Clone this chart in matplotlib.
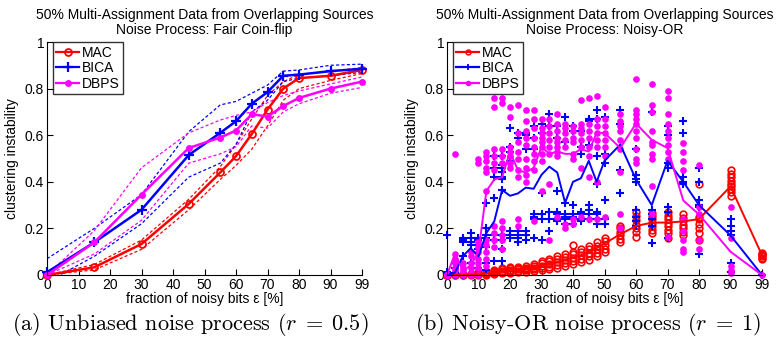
import numpy as np
import matplotlib
matplotlib.use('Agg')
import matplotlib.pyplot as plt
from matplotlib.lines import Line2D

plt.rcParams['font.family'] = ['Liberation Sans', 'DejaVu Sans']
plt.rcParams['mathtext.fontset'] = 'cm'


# ~~~~~~ Left panel: fair coin-flip ~~~~~~~~~~~~~~~~~~~~~~~~~~~~~~~~~~~~~~~~~~~~

x_left = [0, 15, 30, 45, 55, 60, 65, 70, 75, 80, 90, 99]

mac_mean = [0.0, 0.033, 0.133, 0.305, 0.44, 0.51, 0.605, 0.71, 0.80, 0.845, 0.855, 0.88]
mac_hi = [0.0, 0.045, 0.15, 0.325, 0.465, 0.56, 0.67, 0.77, 0.83, 0.86, 0.875, 0.89]
mac_lo = [0.0, 0.022, 0.11, 0.28, 0.41, 0.47, 0.54, 0.64, 0.75, 0.80, 0.835, 0.865]

bica_mean = [0.012, 0.14, 0.28, 0.515, 0.61, 0.66, 0.735, 0.785, 0.855, 0.86, 0.875, 0.885]
bica_hi = [0.07, 0.20, 0.345, 0.615, 0.73, 0.745, 0.78, 0.815, 0.875, 0.88, 0.90, 0.905]
bica_lo = [-0.03, 0.08, 0.22, 0.42, 0.48, 0.56, 0.70, 0.75, 0.83, 0.845, 0.855, 0.87]

dbps_mean = [0.0, 0.14, 0.345, 0.545, 0.59, 0.62, 0.69, 0.68, 0.725, 0.76, 0.80, 0.83]
dbps_hi = [0.0, 0.19, 0.46, 0.61, 0.665, 0.685, 0.70, 0.74, 0.77, 0.79, 0.82, 0.85]
dbps_lo = [0.0, 0.09, 0.235, 0.48, 0.52, 0.55, 0.64, 0.63, 0.70, 0.735, 0.78, 0.805]


# ~~~~~~ Right panel: noisy-OR ~~~~~~~~~~~~~~~~~~~~~~~~~~~~~~~~~~~~~~~~~~~~~~~~~~

x_right = [0, 2.5, 5, 7.5, 10, 12.5, 15, 17.5, 20, 22.5, 25, 27.5, 30, 32.5, 35,
           37.5, 40, 42.5, 45, 47.5, 50, 55, 60, 65, 70, 75, 80, 90, 99]

mac_line = [0, 0, 0, 0.002, 0.003, 0.005, 0.01, 0.015, 0.02, 0.022, 0.025, 0.03,
            0.04, 0.05, 0.055, 0.065, 0.075, 0.085, 0.10, 0.115, 0.135, 0.175,
            0.21, 0.225, 0.225, 0.23, 0.24, 0.38, 0.085]
bica_line = [0.0, 0.01, 0.08, 0.115, 0.08, 0.18, 0.23, 0.365, 0.34, 0.35, 0.375,
             0.37, 0.43, 0.465, 0.44, 0.31, 0.40, 0.415, 0.49, 0.40, 0.49, 0.56,
             0.41, 0.30, 0.49, 0.40, 0.30, 0.17, 0.0]
dbps_line = [0.0, 0.09, 0.02, 0.04, 0.10, 0.36, 0.41, 0.42, 0.53, 0.45, 0.44, 0.46,
             0.55, 0.52, 0.53, 0.52, 0.52, 0.54, 0.53, 0.61, 0.61, 0.545, 0.65,
             0.58, 0.545, 0.32, 0.26, 0.10, 0.0]

mac_runs = [
    [0, 0, 0, 0, 0],
    [0, 0, 0.003, 0.005],
    [0, 0.002, 0.004],
    [0, 0.003, 0.006],
    [0, 0.004, 0.008, 0.012],
    [0.002, 0.006, 0.01, 0.014],
    [0.004, 0.008, 0.013, 0.018, 0.022],
    [0.008, 0.012, 0.018, 0.024, 0.03],
    [0.01, 0.016, 0.022, 0.028, 0.034],
    [0.012, 0.018, 0.024, 0.03, 0.036],
    [0.014, 0.02, 0.026, 0.032, 0.038],
    [0.018, 0.025, 0.032, 0.04, 0.048],
    [0.022, 0.03, 0.04, 0.05, 0.06],
    [0.026, 0.036, 0.048, 0.058, 0.07],
    [0.03, 0.042, 0.055, 0.068, 0.08],
    [0.038, 0.05, 0.064, 0.078, 0.09],
    [0.048, 0.06, 0.074, 0.088, 0.10, 0.128],
    [0.056, 0.07, 0.084, 0.098, 0.11],
    [0.066, 0.08, 0.095, 0.11, 0.125],
    [0.08, 0.095, 0.11, 0.125, 0.14],
    [0.098, 0.112, 0.128, 0.145, 0.16],
    [0.14, 0.155, 0.17, 0.185, 0.2, 0.21],
    [0.165, 0.185, 0.2, 0.215, 0.235, 0.255, 0.27],
    [0.18, 0.195, 0.21, 0.225, 0.24, 0.255, 0.265],
    [0.16, 0.18, 0.195, 0.21, 0.225, 0.24, 0.255, 0.27],
    [0.17, 0.185, 0.2, 0.215, 0.23, 0.245, 0.26],
    [0.15, 0.18, 0.2, 0.22, 0.24, 0.25, 0.39],
    [0.34, 0.355, 0.37, 0.38, 0.39, 0.405, 0.42, 0.435, 0.45],
    [0.07, 0.075, 0.08, 0.085, 0.09, 0.095],
]

bica_runs = [
    [0.0, 0.005, 0.015, 0.17],
    [0.0, 0.01, 0.03, 0.05],
    [0.0, 0.08, 0.14, 0.15, 0.16],
    [0.05, 0.13, 0.14, 0.16, 0.18],
    [0.03, 0.11, 0.13, 0.15, 0.16],
    [0.02, 0.05, 0.12, 0.16, 0.17, 0.2, 0.31],
    [0.06, 0.15, 0.17, 0.33, 0.42, 0.46, 0.51],
    [0.06, 0.11, 0.15, 0.17, 0.365, 0.41, 0.42, 0.44, 0.46, 0.47, 0.51],
    [0.16, 0.17, 0.19, 0.49, 0.53, 0.55, 0.63],
    [0.14, 0.16, 0.17, 0.19, 0.59, 0.61],
    [0.15, 0.17, 0.19, 0.54, 0.6, 0.61],
    [0.16, 0.24, 0.25, 0.26, 0.54, 0.59, 0.64],
    [0.15, 0.24, 0.26, 0.35, 0.61, 0.65],
    [0.19, 0.24, 0.27, 0.64, 0.69],
    [0.23, 0.24, 0.26, 0.27, 0.36, 0.59, 0.64],
    [0.22, 0.24, 0.25, 0.26, 0.31, 0.57, 0.68],
    [0.22, 0.24, 0.25, 0.26, 0.30, 0.62, 0.64],
    [0.23, 0.24, 0.26, 0.27, 0.52, 0.55, 0.62],
    [0.24, 0.26, 0.28, 0.30, 0.56, 0.66, 0.67],
    [0.22, 0.24, 0.26, 0.27, 0.39, 0.51, 0.67, 0.71],
    [0.22, 0.24, 0.32, 0.48, 0.52, 0.68],
    [0.35, 0.45, 0.65, 0.71],
    [0.21, 0.23, 0.25, 0.28, 0.40, 0.41, 0.43, 0.54],
    [0.136, 0.21, 0.24, 0.26, 0.28, 0.70],
    [0.16, 0.27, 0.29, 0.46, 0.48, 0.60, 0.64],
    [0.39, 0.40, 0.42, 0.61, 0.66],
    [0.09, 0.29, 0.30, 0.32, 0.40, 0.46],
    [0.014, 0.05, 0.17, 0.19, 0.21, 0.24],
    [0.0, 0.0],
]

dbps_runs = [
    [0, 0, 0, 0],
    [0.0, 0.02, 0.03, 0.05, 0.07, 0.09, 0.52],
    [0.0, 0.01, 0.02, 0.03, 0.05],
    [0.0, 0.01, 0.03, 0.05, 0.08, 0.10],
    [0.0, 0.03, 0.05, 0.07, 0.10, 0.12, 0.14, 0.48, 0.50],
    [0.04, 0.07, 0.10, 0.13, 0.15, 0.36, 0.44, 0.46, 0.49, 0.51, 0.53],
    [0.12, 0.15, 0.18, 0.21, 0.45, 0.48, 0.51, 0.54, 0.72, 0.76],
    [0.11, 0.15, 0.17, 0.2, 0.23, 0.48, 0.51, 0.54, 0.74, 0.76],
    [0.46, 0.48, 0.51, 0.53, 0.55, 0.68, 0.72],
    [0.21, 0.24, 0.42, 0.45, 0.50, 0.53, 0.57, 0.61, 0.73],
    [0.40, 0.43, 0.46, 0.50, 0.56, 0.59, 0.62, 0.66, 0.71],
    [0.23, 0.45, 0.49, 0.52, 0.55, 0.59, 0.63, 0.67, 0.71],
    [0.36, 0.49, 0.52, 0.55, 0.57, 0.59, 0.61, 0.63, 0.67],
    [0.15, 0.39, 0.52, 0.55, 0.58, 0.61, 0.64, 0.67],
    [0.25, 0.51, 0.53, 0.55, 0.57, 0.59, 0.62, 0.65, 0.69],
    [0.20, 0.22, 0.55, 0.58, 0.61, 0.63, 0.65],
    [0.22, 0.24, 0.50, 0.52, 0.57, 0.59, 0.62, 0.64],
    [0.25, 0.46, 0.55, 0.58, 0.61, 0.63, 0.65, 0.75],
    [0.24, 0.42, 0.51, 0.55, 0.59, 0.62, 0.65, 0.76],
    [0.24, 0.40, 0.55, 0.58, 0.61, 0.64, 0.67, 0.77],
    [0.25, 0.51, 0.55, 0.58, 0.61, 0.64, 0.67, 0.72],
    [0.20, 0.26, 0.44, 0.54, 0.58, 0.62, 0.64, 0.66, 0.69],
    [0.48, 0.50, 0.54, 0.59, 0.62, 0.65, 0.67, 0.69, 0.71, 0.84],
    [0.26, 0.38, 0.50, 0.52, 0.56, 0.57, 0.62, 0.70, 0.73, 0.82],
    [0.165, 0.50, 0.53, 0.56, 0.59, 0.62, 0.65, 0.69, 0.76, 0.79],
    [0.10, 0.11, 0.15, 0.19, 0.24, 0.45, 0.49, 0.53, 0.565],
    [0.11, 0.15, 0.26, 0.29, 0.47],
    [0.01, 0.02, 0.04, 0.16, 0.29],
    [0.0],
]

tick_vals = [0, 10, 20, 30, 40, 50, 60, 70, 80, 90, 99]

titles = ['50% Multi-Assignment Data from Overlapping Sources\nNoise Process: Fair Coin-flip',
          '50% Multi-Assignment Data from Overlapping Sources\nNoise Process: Noisy-OR']
captions = [r'(a) Unbiased noise process ($r\;=\;0.5$)',
            r'(b) Noisy-OR noise process ($r\;=\;1$)']


def pos(vals):
    # 99% sits where 100 would be on the axis
    return [100 if v == 99 else v for v in vals]


RED, BLUE, MAG = (1, 0, 0), (0, 0, 1), (1, 0, 1)
left_styles = {
    'MAC': dict(color=RED, marker='o', mfc='none', ms=5, mew=1.3),
    'BICA': dict(color=BLUE, marker='+', ms=6.5, mew=1.6),
    'DBPS': dict(color=MAG, marker='o', mfc=MAG, ms=5, mew=0),
}
right_styles = {
    'MAC': dict(color=RED, marker='o', mfc='none', ms=4.8, mew=1.2),
    'BICA': dict(color=BLUE, marker='+', ms=5.5, mew=1.5),
    'DBPS': dict(color=MAG, marker='o', mfc=MAG, ms=4.8, mew=0),
}
leg_styles = [left_styles, {
    'MAC': dict(color=RED, marker='o', mfc='none', ms=3.5, mew=1.1),
    'BICA': dict(color=BLUE, marker='+', ms=5, mew=1.3),
    'DBPS': dict(color=MAG, marker='o', mfc=MAG, ms=4, mew=0),
}]


fig = plt.figure(figsize=(7.77, 3.49), dpi=100)
ax1 = fig.add_axes([47 / 777, 1 - 275 / 349, 315 / 777, 233 / 349])
ax2 = fig.add_axes([447 / 777, 1 - 275 / 349, 315 / 777, 233 / 349])

# left
xl = pos(x_left)
for name, m, hi, lo in [('MAC', mac_mean, mac_hi, mac_lo),
                        ('BICA', bica_mean, bica_hi, bica_lo),
                        ('DBPS', dbps_mean, dbps_hi, dbps_lo)]:
    c = left_styles[name]['color']
    ax1.plot(xl, hi, '--', color=c, lw=0.9, dashes=(2.5, 1.8))
    ax1.plot(xl, lo, '--', color=c, lw=0.9, dashes=(2.5, 1.8))
for name, m in [('MAC', mac_mean), ('BICA', bica_mean), ('DBPS', dbps_mean)]:
    ax1.plot(xl, m, lw=1.8, clip_on=False, **left_styles[name])

# right
xr = pos(x_right)
for name, runs in [('MAC', mac_runs), ('BICA', bica_runs), ('DBPS', dbps_runs)]:
    xs, ys = [], []
    for xv, r in zip(xr, runs):
        xs += [xv] * len(r)
        ys += r
    ax2.plot(xs, ys, linestyle='none', clip_on=False, **right_styles[name])
for name, line in [('MAC', mac_line), ('BICA', bica_line), ('DBPS', dbps_line)]:
    ax2.plot(xr, line, color=right_styles[name]['color'], lw=1.4, clip_on=False)

for i, ax in enumerate([ax1, ax2]):
    ax.set_xlim(0, 100)
    ax.set_ylim(0, 1)
    ax.set_xticks(pos(tick_vals))
    ax.set_xticklabels([str(t) for t in tick_vals])
    ax.set_yticks([0, 0.2, 0.4, 0.6, 0.8, 1])
    ax.set_yticklabels(['0', '0.2', '0.4', '0.6', '0.8', '1'])
    ax.spines['top'].set_visible(False)
    ax.spines['right'].set_visible(False)
    ax.tick_params(direction='in', length=4, labelsize=10, pad=2)
    ax.set_xlabel('fraction of noisy bits ε [%]', fontsize=10, labelpad=0)
    ax.set_ylabel('clustering instability', fontsize=10, labelpad=4)
    ax.set_title(titles[i], fontsize=10, pad=6, linespacing=1.1)
    handles = [Line2D([], [], lw=1.6, **leg_styles[i][n]) for n in ['MAC', 'BICA', 'DBPS']]
    leg = ax.legend(handles, ['MAC', 'BICA', 'DBPS'], loc='upper left',
                    bbox_to_anchor=(0.01, 1.01), fontsize=10, frameon=True,
                    fancybox=False, edgecolor='k', handlelength=1.6,
                    handletextpad=0.2, labelspacing=0.1, borderpad=0.25,
                    borderaxespad=0.2)
    leg.get_frame().set_linewidth(1.0)

fig.text(190 / 777, 1 - 324 / 349, captions[0], ha='center', va='center',
         fontsize=16, family='cmr10')
fig.text(588 / 777, 1 - 324 / 349, captions[1], ha='center', va='center',
         fontsize=16, family='cmr10')

fig.savefig('out.png', dpi=100)
